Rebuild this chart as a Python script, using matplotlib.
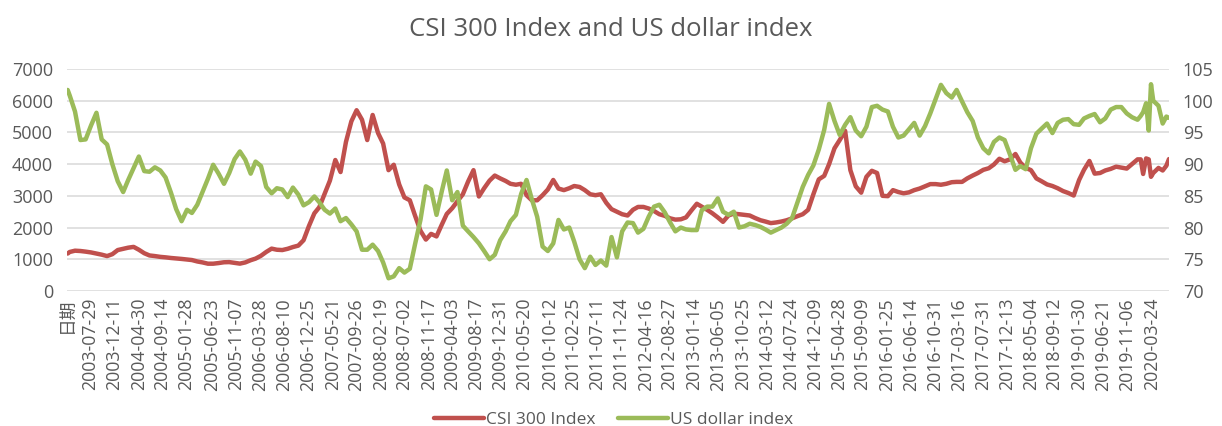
import matplotlib
matplotlib.use('Agg')
import matplotlib.pyplot as plt
import pandas as pd
import numpy as np

plt.rcParams['font.family'] = ['Open Sans', 'Noto Sans CJK SC', 'DejaVu Sans']

# x tick labels (category axis, first one is the header cell)
firstLabel = '日期'
tickDates = ['2003-07-29', '2003-12-11', '2004-04-30', '2004-09-14', '2005-01-28',
             '2005-06-23', '2005-11-07', '2006-03-28', '2006-08-10', '2006-12-25',
             '2007-05-21', '2007-09-26', '2008-02-19', '2008-07-02', '2008-11-17',
             '2009-04-03', '2009-08-17', '2009-12-31', '2010-05-20', '2010-10-12',
             '2011-02-25', '2011-07-11', '2011-11-24', '2012-04-16', '2012-08-27',
             '2013-01-14', '2013-06-05', '2013-10-25', '2014-03-12', '2014-07-24',
             '2014-12-09', '2015-04-28', '2015-09-09', '2016-01-25', '2016-06-14',
             '2016-10-31', '2017-03-16', '2017-07-31', '2017-12-13', '2018-05-04',
             '2018-09-12', '2019-01-30', '2019-06-21', '2019-11-06', '2020-03-24']

# first point, then month starts 2003-04 .. 2019-12, then the 2020 points
startDate = '2003-03-20'
monthStart = '2003-04-01'
tailDates = ['2020-01-02', '2020-01-20', '2020-02-03', '2020-02-20', '2020-03-06',
             '2020-03-19', '2020-04-01', '2020-05-01', '2020-05-25', '2020-06-15',
             '2020-06-30']

csiStart = 1180
csiMonthly = [
    1230, 1270, 1260, 1240, 1215, 1180, 1145, 1100, 1160,                  # 2003
    1290, 1330, 1365, 1390, 1300, 1190, 1120, 1100, 1075, 1060, 1040, 1025,  # 2004
    1010, 990, 975, 930, 900, 860, 860, 880, 905, 910, 885, 862,            # 2005
    900, 970, 1020, 1110, 1230, 1335, 1300, 1290, 1330, 1385, 1430, 1600,   # 2006
    2050, 2450, 2640, 3070, 3480, 4130, 3750, 4700, 5350, 5700, 5400, 4760,  # 2007
    5550, 4980, 4650, 3810, 3980, 3360, 2950, 2860, 2360, 1900, 1620, 1800,  # 2008
    1720, 2100, 2430, 2610, 2830, 3050, 3450, 3810, 2980, 3240, 3480, 3640,  # 2009
    3550, 3470, 3380, 3350, 3380, 3020, 2860, 2860, 3020, 3200, 3500, 3230,  # 2010
    3180, 3240, 3310, 3280, 3180, 3050, 3020, 3050, 2780, 2580, 2500, 2420,  # 2011
    2380, 2560, 2650, 2650, 2600, 2520, 2420, 2370, 2290, 2250, 2260, 2320,  # 2012
    2540, 2750, 2660, 2560, 2450, 2320, 2180, 2380, 2440, 2420, 2400, 2380,  # 2013
    2300, 2230, 2190, 2140, 2160, 2190, 2230, 2290, 2360, 2420, 2560, 3050,  # 2014
    3520, 3630, 4000, 4500, 4760, 5050, 3810, 3300, 3100, 3600, 3790, 3720,  # 2015
    3000, 2990, 3180, 3120, 3080, 3110, 3180, 3230, 3300, 3370, 3370, 3350,  # 2016
    3380, 3430, 3440, 3440, 3550, 3640, 3720, 3820, 3870, 3990, 4170, 4090,  # 2017
    4150, 4320, 4050, 3880, 3810, 3550, 3460, 3360, 3310, 3240, 3150, 3090,  # 2018
    3010, 3500, 3820, 4100, 3700, 3720, 3800, 3850, 3920, 3890, 3860, 4000,  # 2019
]
csiTail = [4150, 4150, 3690, 4180, 4150, 3600, 3720, 3880, 3800, 3950, 4160]

usdStart = 101.7
usdMonthly = [
    100.8, 98.3, 93.8, 93.9, 96.1, 98.1, 93.9, 93.1, 90.0,                    # 2003
    87.3, 85.6, 87.5, 89.4, 91.2, 88.9, 88.8, 89.5, 89.0, 87.9, 85.5, 82.9,     # 2004
    81.0, 82.8, 82.3, 83.6, 85.6, 87.7, 89.9, 88.5, 86.9, 88.6, 90.8, 92.0,     # 2005
    90.7, 88.5, 90.4, 89.7, 86.4, 85.4, 86.2, 86.0, 84.8, 86.3, 85.2, 83.5,     # 2006
    84.0, 84.9, 84.0, 82.8, 82.2, 83.0, 81.0, 81.5, 80.5, 79.4, 76.5, 76.5,     # 2007
    77.3, 76.3, 74.5, 72.0, 72.3, 73.6, 72.9, 73.5, 77.5, 81.2, 86.5, 86.0,     # 2008
    82.0, 85.8, 89.0, 84.3, 85.6, 80.3, 79.4, 78.5, 77.5, 76.3, 75.0, 75.7,     # 2009
    78.0, 79.4, 81.0, 82.0, 85.3, 87.5, 84.5, 81.7, 77.0, 76.3, 77.5, 81.2,     # 2010
    79.7, 80.0, 77.8, 75.0, 73.6, 75.4, 74.1, 74.8, 74.0, 78.5, 75.3, 79.4,     # 2011
    80.8, 80.7, 79.2, 79.8, 81.7, 83.3, 83.6, 82.4, 80.8, 79.4, 80.0, 79.7,     # 2012
    79.6, 79.6, 82.7, 83.3, 83.3, 84.6, 82.5, 82.0, 82.5, 80.0, 80.2, 80.6,     # 2013
    80.4, 80.1, 79.7, 79.2, 79.6, 80.0, 80.6, 81.5, 84.0, 86.4, 88.3, 89.8,     # 2014
    92.3, 95.4, 99.5, 96.8, 94.6, 96.2, 97.4, 95.3, 94.4, 95.9, 99.0, 99.2,     # 2015
    98.6, 98.3, 95.9, 94.2, 94.5, 95.5, 96.5, 94.5, 96.0, 98.0, 100.3, 102.5,   # 2016
    101.2, 100.5, 101.7, 99.9, 98.2, 96.8, 94.2, 92.5, 91.7, 93.5, 94.2, 93.8,  # 2017
    91.5, 89.1, 89.7, 89.2, 92.5, 94.8, 95.6, 96.4, 94.9, 96.5, 97.0, 97.1,     # 2018
    96.3, 96.2, 97.2, 97.6, 97.9, 96.6, 97.2, 98.6, 99.0, 99.0, 98.0, 97.4,     # 2019
]
usdTail = [97.0, 97.6, 98.2, 99.6, 95.3, 102.6, 100.0, 99.2, 96.4, 97.5, 97.3]

#%% build the date axis
monthDates = pd.date_range(monthStart, periods=len(csiMonthly), freq='MS')
dates = pd.DatetimeIndex([pd.Timestamp(startDate)]).append(monthDates).append(pd.DatetimeIndex(tailDates))
csi = [csiStart] + csiMonthly + csiTail
usd = [usdStart] + usdMonthly + usdTail

tickTs = pd.to_datetime(tickDates)
headerPos = tickTs[0] - (tickTs[1] - tickTs[0])  # slot of the '日期' category
allTicks = [headerPos] + list(tickTs)
allLabels = [firstLabel] + tickDates

textColor = '#595959'
red = '#C0504D'
green = '#9BBB59'

#%% figure
fig = plt.figure(figsize=(12.22, 4.26), dpi=100)
ax = fig.add_axes([0.0548, 0.317, 0.9018, 0.521])
ax2 = ax.twinx()

l1, = ax.plot(dates, csi, color=red, linewidth=3.2, solid_joinstyle='round',
              solid_capstyle='round', label='CSI 300 Index')
l2, = ax2.plot(dates, usd, color=green, linewidth=3.2, solid_joinstyle='round',
               solid_capstyle='round', label='US dollar index')

ax.set_ylim(0, 7000)
ax.set_yticks(np.arange(0, 7001, 1000))
ax2.set_ylim(70, 105)
ax2.set_yticks(np.arange(70, 106, 5))
ax.set_xlim(headerPos, pd.Timestamp('2020-06-30'))

ax.set_xticks(allTicks)
ax.set_xticklabels(allLabels, rotation=90)

ax.yaxis.grid(True, color='#D9D9D9', linewidth=1.1)
ax.set_axisbelow(True)

for a in (ax, ax2):
    for s in a.spines.values():
        s.set_visible(False)
ax.tick_params(axis='y', length=0, pad=10, labelsize=13, labelcolor=textColor)
ax2.tick_params(axis='y', length=0, pad=10, labelsize=13, labelcolor=textColor)
ax.tick_params(axis='x', length=0, pad=5, labelsize=12.8, labelcolor=textColor)

fig.text(0.5, 0.93, 'CSI 300 Index and US dollar index', ha='center', va='center',
         fontsize=18.5, color=textColor)

leg = fig.legend([l1, l2], ['CSI 300 Index', 'US dollar index'], loc='lower center',
                 bbox_to_anchor=(0.502, -0.042), ncol=2, frameon=False, fontsize=12.5,
                 handlelength=2.9, handletextpad=0.1, columnspacing=1.3)
for t in leg.get_texts():
    t.set_color(textColor)

fig.savefig('out.png', dpi=100)
